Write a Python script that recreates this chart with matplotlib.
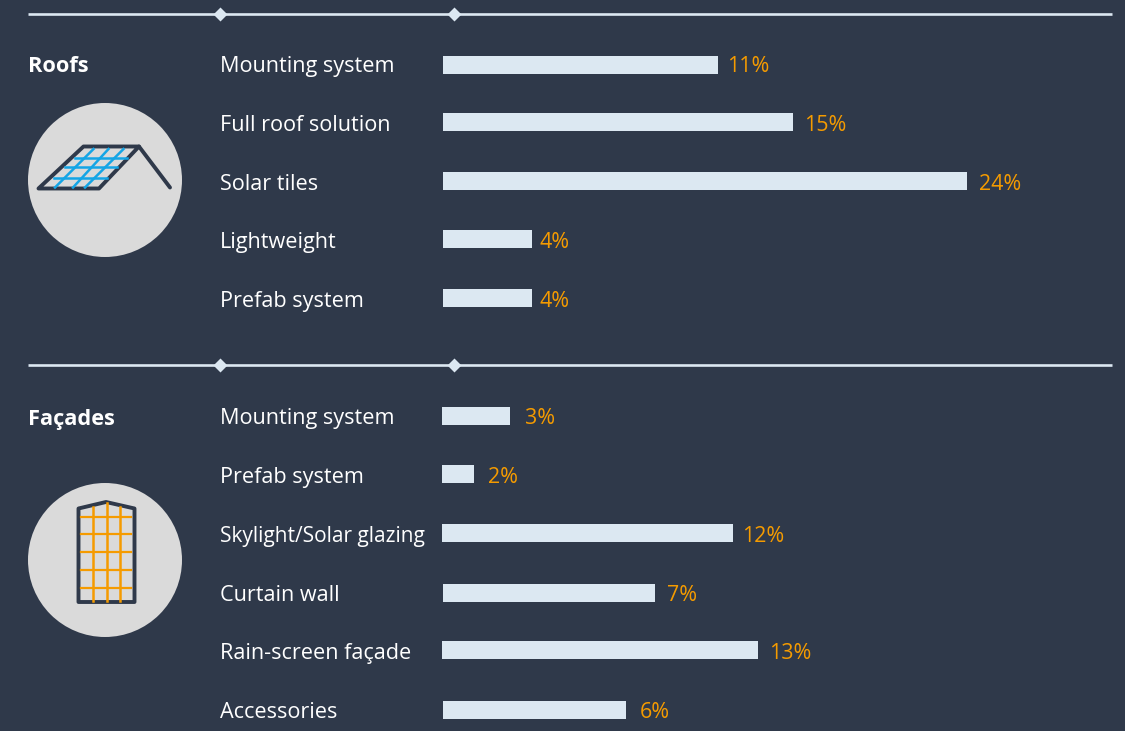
import matplotlib
matplotlib.use('Agg')
import matplotlib.pyplot as plt
from matplotlib.patches import Circle, Polygon

# roofs section
roof_names = ['Mounting system', 'Full roof solution', 'Solar tiles', 'Lightweight', 'Prefab system']
roof_labels = ['11%', '15%', '24%', '4%', '4%']
roof_lengths = [275, 350, 524, 89, 89]  # bars in the source are not to scale

# facades section
facade_names = ['Mounting system', 'Prefab system', 'Skylight/Solar glazing', 'Curtain wall',
                'Rain-screen façade', 'Accessories']
facade_labels = ['3%', '2%', '12%', '7%', '13%', '6%']
facade_lengths = [68, 32, 291, 212, 316, 183]

BG = '#2f394a'
BAR = '#dce8f2'
ORANGE = '#f59b00'
BLUE = '#14a5e6'
GREY = '#dadada'

plt.rcParams['font.family'] = 'Open Sans'

fig = plt.figure(figsize=(11.25, 7.31), dpi=100, facecolor=BG)
ax = fig.add_axes([0, 0, 1, 1])
ax.set_xlim(0, 1125)
ax.set_ylim(731, 0)
ax.axis('off')


def divider(y):
    ax.plot([27.5, 1112], [y, y], color=BAR, lw=1.9, solid_capstyle='butt')
    ax.plot([219.5, 454], [y, y], ls='none', marker='D', ms=7.5, color=BAR, mec='none')


def section(title, title_y, names, labels, lengths, lefts, text_rows, bar_rows, label_x):
    ax.text(27.5, title_y, title, color='white', fontsize=15.7, fontweight='bold', va='center')
    for i, name in enumerate(names):
        # the long label is set tighter in the source
        size = 15 if name.startswith('Skylight') else 15.6
        ax.text(220, text_rows[i], name, color='white', fontsize=size, va='center')
        ax.barh(bar_rows[i], lengths[i], left=lefts[i], height=18, color=BAR)
        ax.text(label_x[i], text_rows[i], labels[i], color=ORANGE, fontsize=15.4, va='center')


divider(14)
divider(365)

section('Roofs', 66, roof_names, roof_labels, roof_lengths, [443] * 5,
        [66.5, 125.5, 184.5, 242.5, 301.5], [64.5, 121.5, 180.5, 239, 297.5],
        [727.5, 804.5, 978.5, 540, 540])
section('Façades', 419, facade_names, facade_labels, facade_lengths, [442, 442, 442, 443, 442, 443],
        [418.5, 477.5, 536.5, 595.5, 653.5, 712.5], [415.5, 474, 533, 592.5, 649.5, 709.5],
        [525.5, 488, 742.5, 667, 769.5, 640])

# roof icon
ax.add_patch(Circle((105, 180), 77, color=GREY, lw=0))
for x0, x1, y in [(75, 127, 157.7), (65, 117, 167.3), (53.5, 107, 178.3)]:
    ax.plot([x0, x1], [y, y], color=BLUE, lw=1.8)
for x0, x1 in [(93.5, 55), (108.5, 73), (123.5, 85)]:
    ax.plot([x0, x1], [149, 187.5], color=BLUE, lw=1.8)
ax.add_patch(Polygon([(38.5, 188.5), (83.5, 146.5), (139, 146.5), (99, 188.5)], closed=True,
                     fill=False, ec=BG, lw=2.8, joinstyle='round'))
ax.plot([139, 170], [146.5, 187.5], color=BG, lw=2.8, solid_capstyle='round')

# facade icon
ax.add_patch(Circle((105, 560), 77, color=GREY, lw=0))
for y in [516.5, 534, 552, 570, 587.5]:
    ax.plot([81, 131], [y, y], color=ORANGE, lw=1.6)
for x, top in [(92.5, 507), (106.5, 503), (119.5, 507)]:
    ax.plot([x, x], [top, 601], color=ORANGE, lw=1.8)
ax.add_patch(Polygon([(78.5, 508.5), (106, 502), (134.5, 508.5), (134.5, 602), (78.5, 602)],
                     closed=True, fill=False, ec=BG, lw=2.8, joinstyle='round'))

fig.savefig('out.png', dpi=100, facecolor=BG)
